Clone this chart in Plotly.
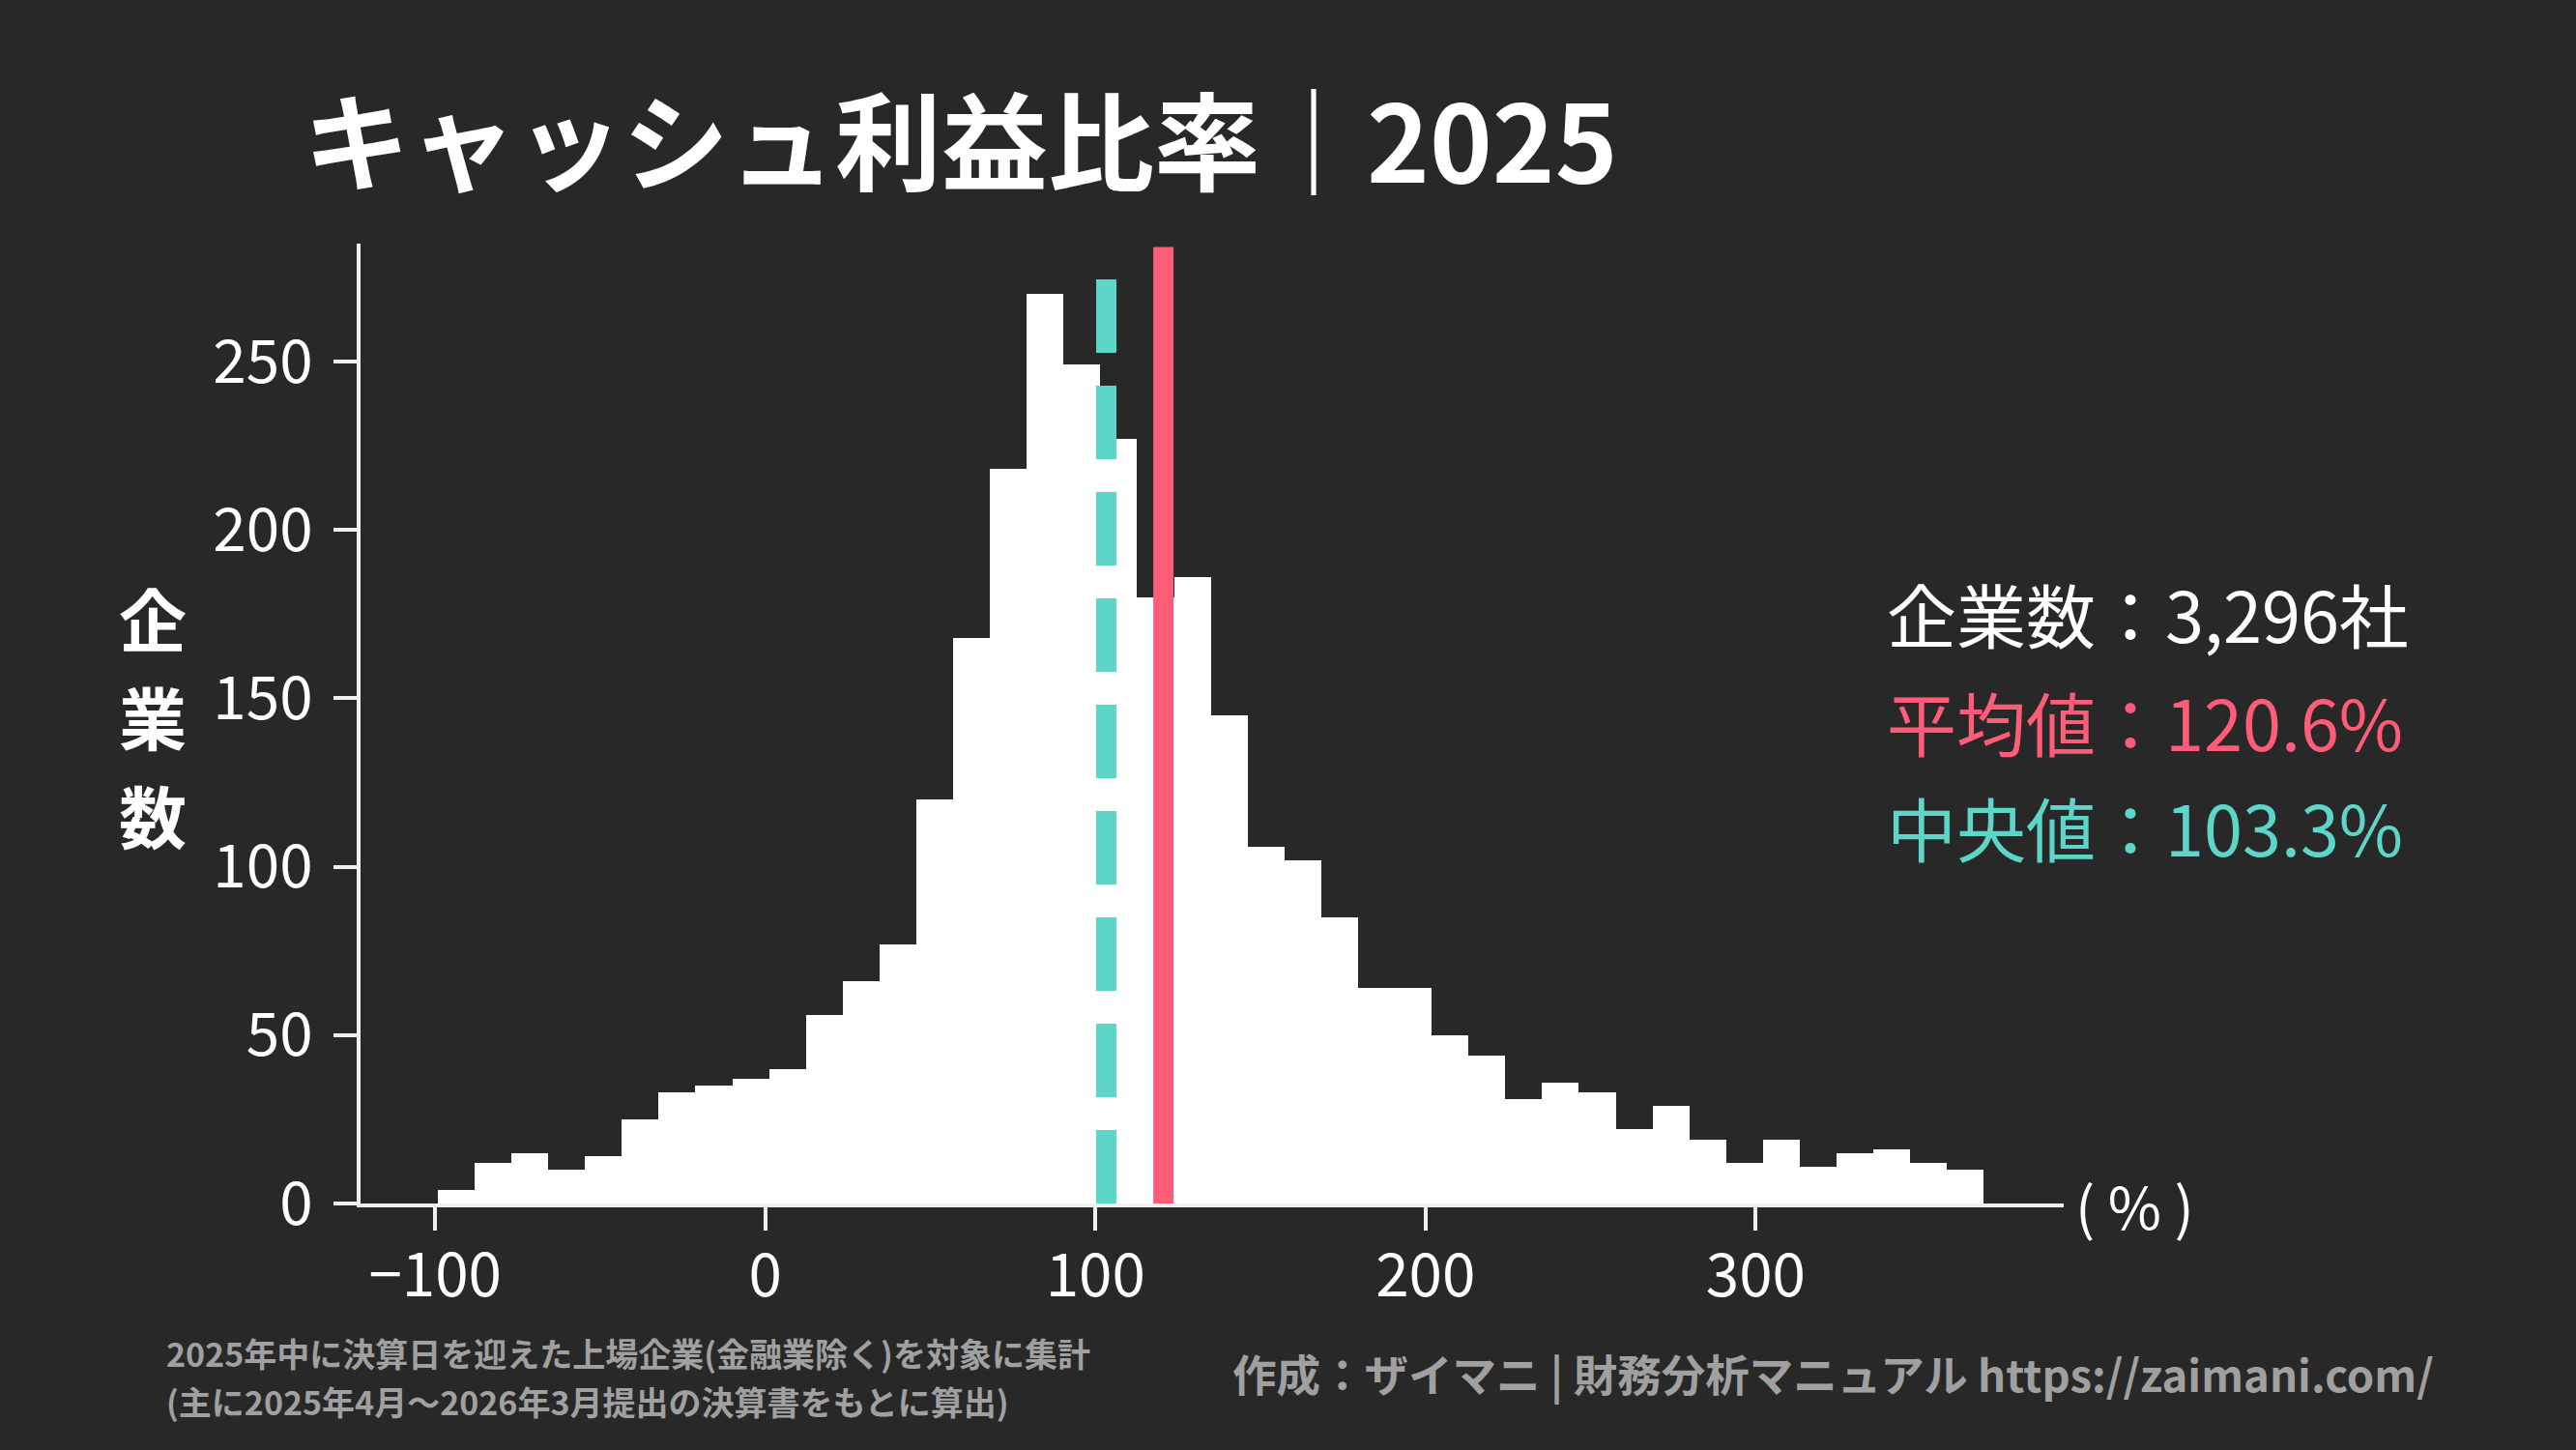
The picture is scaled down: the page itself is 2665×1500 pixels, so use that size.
import numpy as np
import plotly.graph_objects as go

# ---- data ----
bin_start = -99.2
bin_width = 11.15
counts = [4, 12, 15, 10, 14, 25, 33, 35, 37, 40, 56, 66, 77, 120, 168, 218, 270, 249, 227, 180,
          186, 145, 106, 102, 85, 64, 64, 50, 44, 31, 36, 33, 22, 29, 19, 12, 19, 11, 15, 16, 12, 10]
mean_val = 120.6
median_val = 103.3
n_companies = "3,296"
x_tickvals = [-100, 0, 100, 200, 300]
x_ticktext = ["\u2212100", "0", "100", "200", "300"]
y_tickvals = [0, 50, 100, 150, 200, 250]

title_text = "キャッシュ利益比率｜2025"
ytitle_chars = ["企", "業", "数"]
stats_lines = [("企業数：" + n_companies + "社", "#FFFFFF"),
               ("平均値：" + f"{mean_val:.1f}%", "#FF5C77"),
               ("中央値：" + f"{median_val:.1f}%", "#5DD5C9")]
footer_left_lines = ["2025年中に決算日を迎えた上場企業(金融業除く)を対象に集計",
                     "(主に2025年4月～2026年3月提出の決算書をもとに算出)"]
footer_right = "作成：ザイマニ | 財務分析マニュアル https://zaimani.com/"

# ---- layout constants ----
W, H = 2665, 1500
L, R, T, B = 373, 2135, 252, 1245
BG = "#282828"
FONT = "Noto Sans CJK JP"
xr = [-122.6, 393.3]
yr = [0, 285]

centers = [bin_start + bin_width * (i + 0.5) for i in range(len(counts))]

fig = go.Figure()
fig.add_trace(go.Bar(x=centers, y=counts, width=bin_width,
                     marker=dict(color="#FFFFFF", line=dict(width=0)),
                     hoverinfo="skip", showlegend=False))
# median (dashed, drawn bottom->top)
fig.add_trace(go.Scatter(x=[median_val, median_val], y=[0, 284], mode="lines",
                         line=dict(color="#5DD5C9", width=21, dash="76px,34px"),
                         hoverinfo="skip", showlegend=False))
fig.add_trace(go.Scatter(x=[mean_val, mean_val], y=[0, 284], mode="lines",
                         line=dict(color="#FF5C77", width=21),
                         hoverinfo="skip", showlegend=False))


def px(xp):
    return (xp - L) / (R - L)


def py(yp):
    return (B - yp) / (B - T)


ann = []
# y-axis title (vertical, stacked)
for ch, yc in zip(ytitle_chars, [638, 740, 842]):
    ann.append(dict(text=f"<b>{ch}</b>", x=px(158), y=py(yc), xref="paper", yref="paper",
                    xanchor="center", yanchor="middle", showarrow=False,
                    font=dict(family=FONT, size=70, color="#FFFFFF")))
# unit label
ann.append(dict(text="( % )", x=px(2208), y=py(1245), xref="paper", yref="paper",
                xanchor="center", yanchor="middle", showarrow=False,
                font=dict(family=FONT, size=60, color="#FFFFFF")))
# stats
for (txt, col), yc in zip(stats_lines, [633, 745, 855]):
    ann.append(dict(text=txt, x=px(1950), y=py(yc), xref="paper", yref="paper",
                    xanchor="left", yanchor="middle", showarrow=False,
                    font=dict(family=FONT, size=72, color=col)))
# footers
for txt, yc in zip(footer_left_lines, [1399, 1449]):
    ann.append(dict(text=f"<b>{txt}</b>", x=px(170), y=py(yc), xref="paper", yref="paper",
                    xanchor="left", yanchor="middle", showarrow=False,
                    font=dict(family=FONT, size=34, color="#A0A0A0")))
ann.append(dict(text=f"<b>{footer_right}</b>", x=px(2520), y=py(1420), xref="paper", yref="paper",
                xanchor="right", yanchor="middle", showarrow=False,
                font=dict(family=FONT, size=45.5, color="#A0A0A0")))

axis_col = "#F0F0F0"
fig.update_layout(
    width=W, height=H,
    paper_bgcolor=BG, plot_bgcolor=BG,
    margin=dict(l=L, r=W - R, t=T, b=H - B, pad=0),
    bargap=0,
    title=dict(text=f"<b>{title_text}</b>", x=314 / W, xanchor="left", xref="container",
               y=1 - 150 / H, yanchor="middle",
               font=dict(family=FONT, size=110, color="#FFFFFF")),
    xaxis=dict(range=xr, tickvals=x_tickvals, ticktext=x_ticktext, showgrid=False, zeroline=False,
               showline=True, linecolor=axis_col, linewidth=4,
               ticks="outside", ticklen=24, tickwidth=4, tickcolor=axis_col,
               tickfont=dict(family=FONT, size=62, color="#FFFFFF"), ticklabelstandoff=-6),
    yaxis=dict(range=yr, tickvals=y_tickvals, showgrid=False, zeroline=False,
               showline=True, linecolor=axis_col, linewidth=4,
               ticks="outside", ticklen=24, tickwidth=4, tickcolor=axis_col,
               tickfont=dict(family=FONT, size=62, color="#FFFFFF"), ticklabelstandoff=9),
    annotations=ann,
)

fig.write_html("out.html", config={"displayModeBar": False},
               post_script="document.body.style.margin='0';document.body.style.overflow='hidden';"
                           "document.body.style.background='#282828';")
